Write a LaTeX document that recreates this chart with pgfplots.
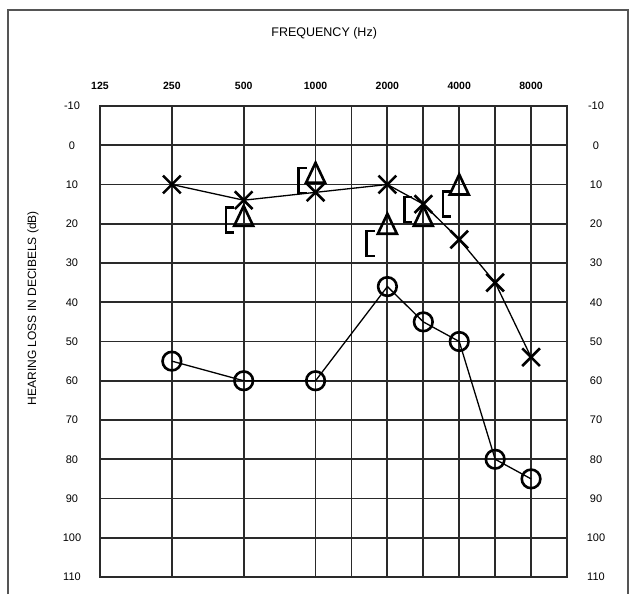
\documentclass[border=0pt]{standalone}
\usepackage{pgfplots}
\pgfplotsset{compat=1.18}
\usepackage{fontspec}
\setmainfont{Liberation Sans}

\pgfdeclareplotmark{tri}{%
  \pgfpathmoveto{\pgfqpoint{0pt}{10pt}}%
  \pgfpathlineto{\pgfqpoint{9.5pt}{-10pt}}%
  \pgfpathlineto{\pgfqpoint{-9.5pt}{-10pt}}%
  \pgfpathclose
  \pgfusepathqstroke}
\pgfdeclareplotmark{lbrk}{%
  \pgfpathmoveto{\pgfqpoint{8pt}{12.5pt}}%
  \pgfpathlineto{\pgfqpoint{0pt}{12.5pt}}%
  \pgfpathlineto{\pgfqpoint{0pt}{-12.5pt}}%
  \pgfpathlineto{\pgfqpoint{8pt}{-12.5pt}}%
  \pgfusepathqstroke}

\definecolor{gridc}{HTML}{2A2A2A}
\definecolor{framec}{HTML}{555555}

\begin{document}
\begin{tikzpicture}
\path[use as bounding box] (-100pt,-17pt) rectangle (531pt,577pt);
\draw[framec, line width=1.6pt] (-92pt,-17pt) -- (-92pt,567pt) -- (528pt,567pt) -- (528pt,-17pt);

\begin{axis}[
  at={(0pt,0pt)}, anchor=south west,
  scale only axis, width=467pt, height=471pt,
  xmin=0, xmax=13, ymin=-10, ymax=110,
  y dir=reverse,
  xtick={0,2,4,6,8,10,12},
  xticklabels={125,250,500,1000,2000,4000,8000},
  minor xtick={7,9,11},
  xticklabel pos=upper,
  ytick={-10,0,...,110},
  grid=both,
  major grid style={draw=gridc, line width=1.8pt},
  minor grid style={draw=gridc, line width=1.8pt},
  axis line style={draw=gridc, line width=1.8pt},
  major tick length=0pt, minor tick length=0pt,
  /pgf/number format/assume math mode=true,
  xticklabel style={font=\bfseries\fontsize{10.5}{12}\selectfont, anchor=center, yshift=20pt},
  yticklabel style={font=\fontsize{11}{13}\selectfont, anchor=center, xshift=-28pt},
  title={FREQUENCY (Hz)},
  title style={font=\fontsize{12.5}{14}\selectfont, at={(axis description cs:0.48,1.142)}, anchor=center},
  ylabel={HEARING LOSS IN DECIBELS (dB)},
  ylabel style={font=\fontsize{12}{14}\selectfont, at={(axis description cs:-0.1435,0.571)}, anchor=center, rotate=0},
  clip=false,
]
% air conduction, crosses
\addplot[black, line width=1.3pt, mark=x, mark size=12.5pt, mark options={line width=2.6pt}]
  coordinates {(2,10) (4,14) (6,12) (8,10) (9,15) (10,24) (11,35) (12,54)};
% air conduction, circles
\addplot[black, line width=1.3pt, mark=o, mark size=9.3pt, mark options={line width=2.6pt}]
  coordinates {(2,55) (4,60) (6,60) (8,36) (9,45) (10,50) (11,80) (12,85)};
% bone conduction, triangles
\addplot[black, only marks, mark=tri, mark options={line width=2.6pt}]
  coordinates {(4,18) (6,7) (8,20) (9,18) (10,10)};
% masking brackets
\addplot[black, only marks, mark=lbrk, mark options={line width=2.7pt}]
  coordinates {(3.51,19) (5.53,9) (7.42,25) (8.47,16.4) (9.55,15)};
\end{axis}

\begin{axis}[
  at={(0pt,0pt)}, anchor=south west,
  scale only axis, width=467pt, height=471pt,
  xmin=0, xmax=13, ymin=-10, ymax=110,
  y dir=reverse,
  hide x axis,
  axis y line*=right,
  y axis line style={draw=none},
  ytick={-10,0,...,110},
  major tick length=0pt,
  /pgf/number format/assume math mode=true,
  yticklabel style={font=\fontsize{11}{13}\selectfont, anchor=center, xshift=29pt},
]
\addplot[draw=none] coordinates {(0,0)};
\end{axis}
\end{tikzpicture}
\end{document}
